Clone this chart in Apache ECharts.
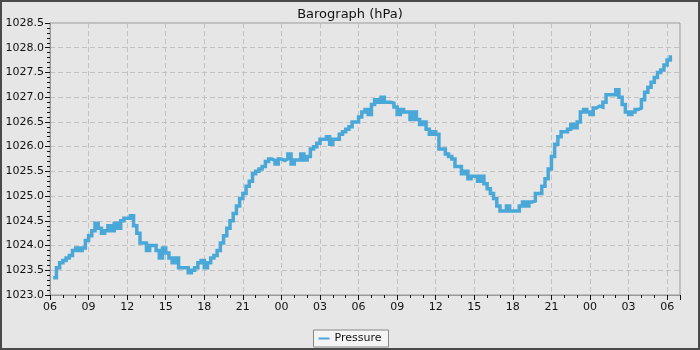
<!DOCTYPE html>
<html>
<head>
<meta charset="utf-8">
<script src="https://cdn.jsdelivr.net/npm/echarts@6/dist/echarts.min.js"></script>
<style>
  html, body { margin: 0; padding: 0; background: #e6e6e6; }
  #wrap { position: relative; width: 700px; height: 350px; }
  #chart { width: 700px; height: 350px; }
  #frame { position: absolute; left: 0; top: 0; width: 700px; height: 350px;
           box-sizing: border-box; border: 2px solid #4a4a4a; pointer-events: none; }
</style>
</head>
<body>
<div id="wrap">
  <div id="chart"></div>
  <div id="frame"></div>
</div>
<script>
// hours after 06:00 on day 1, one reading every 15 minutes
const sampleStart = 0.25;
const sampleStep = 0.25;
const pressure = [
  1023.35, 1023.55, 1023.65, 1023.7,
  1023.75, 1023.8, 1023.9, 1023.95,
  1023.9, 1023.95, 1024.1, 1024.2,
  1024.3, 1024.45, 1024.35, 1024.25,
  1024.3, 1024.4, 1024.3, 1024.45,
  1024.35, 1024.5, 1024.55, 1024.55,
  1024.6, 1024.4, 1024.25, 1024.05,
  1024.05, 1023.9, 1024.0, 1024.0,
  1023.9, 1023.75, 1023.95, 1023.85,
  1023.75, 1023.65, 1023.75, 1023.55,
  1023.55, 1023.55, 1023.45, 1023.5,
  1023.55, 1023.65, 1023.7, 1023.55,
  1023.65, 1023.75, 1023.8, 1023.9,
  1024.05, 1024.2, 1024.35, 1024.5,
  1024.65, 1024.8, 1024.95, 1025.05,
  1025.2, 1025.3, 1025.45, 1025.5,
  1025.55, 1025.6, 1025.7, 1025.75,
  1025.72, 1025.65, 1025.75, 1025.72,
  1025.75, 1025.85, 1025.65, 1025.73,
  1025.73, 1025.85, 1025.73, 1025.8,
  1025.95, 1026.0, 1026.07, 1026.15,
  1026.15, 1026.2, 1026.05, 1026.15,
  1026.15, 1026.25, 1026.3, 1026.35,
  1026.4, 1026.5, 1026.5, 1026.6,
  1026.7, 1026.75, 1026.65, 1026.85,
  1026.95, 1026.9, 1027.0, 1026.9,
  1026.9, 1026.88, 1026.8, 1026.65,
  1026.75, 1026.7, 1026.7, 1026.55,
  1026.7, 1026.55, 1026.45, 1026.5,
  1026.35, 1026.25, 1026.3, 1026.25,
  1025.95, 1025.95, 1025.85, 1025.8,
  1025.75, 1025.6, 1025.6, 1025.45,
  1025.5, 1025.35, 1025.4, 1025.4,
  1025.3, 1025.4, 1025.25, 1025.15,
  1025.05, 1024.95, 1024.8, 1024.7,
  1024.7, 1024.8, 1024.7, 1024.7,
  1024.7, 1024.8, 1024.88, 1024.8,
  1024.88, 1024.9, 1025.05, 1025.05,
  1025.2, 1025.35, 1025.55, 1025.8,
  1026.05, 1026.2, 1026.3, 1026.3,
  1026.35, 1026.45, 1026.38, 1026.5,
  1026.7, 1026.75, 1026.7, 1026.65,
  1026.78, 1026.82, 1026.8, 1026.9,
  1027.05, 1027.05, 1027.05, 1027.15,
  1027.0, 1026.85, 1026.7, 1026.65,
  1026.7, 1026.75, 1026.78, 1026.95,
  1027.1, 1027.2, 1027.3, 1027.4,
  1027.5, 1027.55, 1027.65, 1027.75,
  1027.85
];
const xTickLabels = ['06', '09', '12', '15', '18', '21', '00', '03', '06', '09', '12', '15', '18', '21', '00', '03', '06'];

const seriesData = pressure.map((p, i) => [sampleStart + i * sampleStep, p]);

const chart = echarts.init(document.getElementById('chart'));
const font = 'DejaVu Sans';
const option = {
  backgroundColor: '#e6e6e6',
  animation: false,
  title: {
    text: 'Barograph (hPa)',
    left: 'center',
    top: 3,
    textStyle: { fontFamily: font, fontSize: 13, fontWeight: 'normal', color: '#111' }
  },
  legend: {
    bottom: 3,
    left: 'center',
    data: ['Pressure'],
    icon: 'rect',
    itemWidth: 11,
    itemHeight: 2,
    itemGap: 10,
    padding: [3, 7, 3, 5],
    backgroundColor: '#f4f4f4',
    borderColor: '#888',
    borderWidth: 1,
    borderRadius: 0,
    textStyle: { fontFamily: font, fontSize: 11, color: '#111' }
  },
  grid: {
    left: 50, right: 20, top: 23, bottom: 55,
    show: true,
    borderColor: '#999',
    borderWidth: 1
  },
  xAxis: {
    type: 'value',
    min: 0,
    max: 49,
    interval: 3,
    axisLine: { lineStyle: { color: '#999' } },
    axisTick: { show: true, length: 5, lineStyle: { color: '#111' } },
    minorTick: { show: true, splitNumber: 3, length: 3, lineStyle: { color: '#111' } },
    axisLabel: {
      fontFamily: font, fontSize: 11, color: '#111', margin: 7,
      formatter: v => (v % 3 === 0 ? xTickLabels[v / 3] : '')
    },
    splitLine: { show: true, lineStyle: { color: '#c2c2c2', type: [5, 3] } }
  },
  yAxis: {
    type: 'value',
    min: 1023,
    max: 1028.5,
    interval: 0.5,
    axisLine: { show: true, lineStyle: { color: '#999' } },
    axisTick: { show: true, length: 5, lineStyle: { color: '#111' } },
    minorTick: { show: true, splitNumber: 5, length: 3, lineStyle: { color: '#111' } },
    axisLabel: {
      fontFamily: font, fontSize: 11, color: '#111', margin: 6,
      formatter: v => v.toFixed(1)
    },
    splitLine: { show: true, lineStyle: { color: '#c2c2c2', type: [5, 3] } }
  },
  series: [{
    name: 'Pressure',
    type: 'line',
    step: 'end',
    showSymbol: false,
    data: seriesData,
    color: '#4aa8d8',
    lineStyle: { width: 3.5, color: '#4aa8d8', cap: 'butt', join: 'miter' }
  }]
};
chart.setOption(option);
</script>
</body>
</html>
